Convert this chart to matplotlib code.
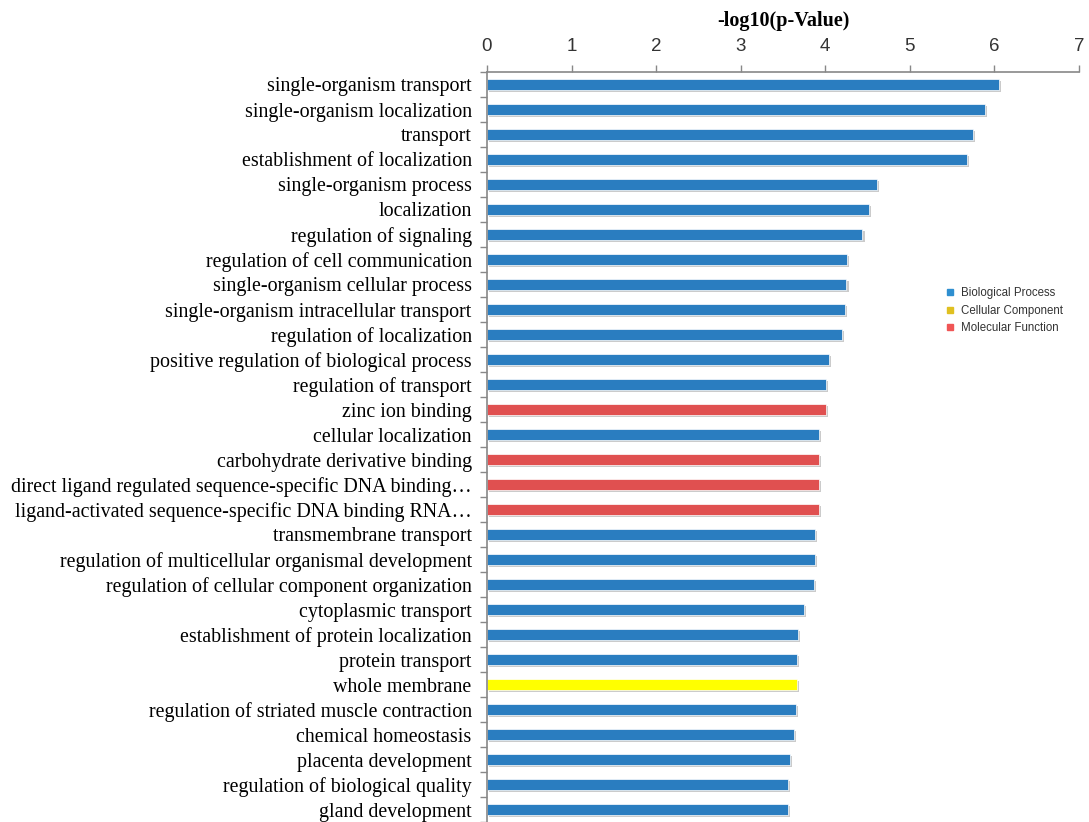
import matplotlib.pyplot as plt
import matplotlib.patheffects as pe
from matplotlib.lines import Line2D
import numpy as np

terms = [
    "single-organism transport",
    "single-organism localization",
    "transport",
    "establishment of localization",
    "single-organism process",
    "localization",
    "regulation of signaling",
    "regulation of cell communication",
    "single-organism cellular process",
    "single-organism intracellular transport",
    "regulation of localization",
    "positive regulation of biological process",
    "regulation of transport",
    "zinc ion binding",
    "cellular localization",
    "carbohydrate derivative binding",
    "direct ligand regulated sequence-specific DNA binding\u2026",
    "ligand-activated sequence-specific DNA binding RNA\u2026",
    "transmembrane transport",
    "regulation of multicellular organismal development",
    "regulation of cellular component organization",
    "cytoplasmic transport",
    "establishment of protein localization",
    "protein transport",
    "whole membrane",
    "regulation of striated muscle contraction",
    "chemical homeostasis",
    "placenta development",
    "regulation of biological quality",
    "gland development",
]

pvals = [6.05, 5.89, 5.75, 5.68, 4.61, 4.52, 4.44, 4.26, 4.25, 4.23,
         4.20, 4.04, 4.01, 4.01, 3.93, 3.92, 3.92, 3.92, 3.88, 3.88,
         3.87, 3.75, 3.68, 3.66, 3.66, 3.65, 3.63, 3.58, 3.56, 3.56]

# BP = biological process, CC = cellular component, MF = molecular function
cats = ["BP"] * 13 + ["MF", "BP", "MF", "MF", "MF"] + ["BP"] * 6 + ["CC"] + ["BP"] * 5

colores = {"BP": "#2a7dc0", "CC": "#ffff00", "MF": "#e05050"}
nomes = {"BP": "Biological Process", "CC": "Cellular Component", "MF": "Molecular Function"}
cores_legenda = {"BP": "#2f8fd0", "CC": "#e0c020", "MF": "#f05555"}

fig = plt.figure(figsize=(10.89, 8.22), dpi=100)
ax = fig.add_axes([487 / 1089, 0.0, 592 / 1089, 1 - 72 / 822])

y = np.arange(len(terms))
sombra = [pe.SimplePatchShadow(offset=(1.5, -1.5), shadow_rgbFace="0.55", alpha=0.45), pe.Normal()]
barras = ax.barh(y, pvals, height=0.46, color=[colores[c] for c in cats],
                 edgecolor="white", linewidth=0.5)
for b in barras:
    b.set_path_effects(sombra)

ax.set_xlim(0, 7)
ax.set_ylim(len(terms) - 0.5, -0.5)

# eixo x em cima, estilo excel
ax.xaxis.tick_top()
ax.xaxis.set_label_position("top")
ax.set_xticks(range(8))
ax.tick_params(axis="x", direction="out", length=5, width=1, color="#888888",
               pad=7, labelsize=13.5, labelcolor="#333333")
for t in ax.get_xticklabels():
    t.set_fontfamily("Liberation Sans")
ax.set_xlabel("-log10(p-Value)", fontsize=14.5, fontweight="bold",
              fontfamily="Liberation Serif", labelpad=9)

ax.set_yticks(y)
ax.set_yticklabels(terms, fontsize=14.4, fontfamily="Liberation Serif")
ax.tick_params(axis="y", which="major", length=0, pad=11)
ax.set_yticks(np.arange(-0.5, len(terms), 1), minor=True)
ax.tick_params(axis="y", which="minor", direction="out", length=5, width=1, color="#888888")

for lado in ["right", "bottom"]:
    ax.spines[lado].set_visible(False)
for lado in ["left", "top"]:
    ax.spines[lado].set_color("#888888")
    ax.spines[lado].set_linewidth(1.2)

handles = [Line2D([], [], marker="s", linestyle="none", markersize=3.8,
                  color=cores_legenda[k], label=nomes[k]) for k in ["BP", "CC", "MF"]]
legend = fig.legend(handles=handles, loc="upper left", bbox_to_anchor=(928 / 1089, 1 - 277 / 822),
                    frameon=False, handletextpad=0.0, labelspacing=0.45,
                    prop={"family": "Liberation Sans", "size": 8.3})
for t in legend.get_texts():
    t.set_color("#333333")

plt.savefig("out.png", dpi=100)
